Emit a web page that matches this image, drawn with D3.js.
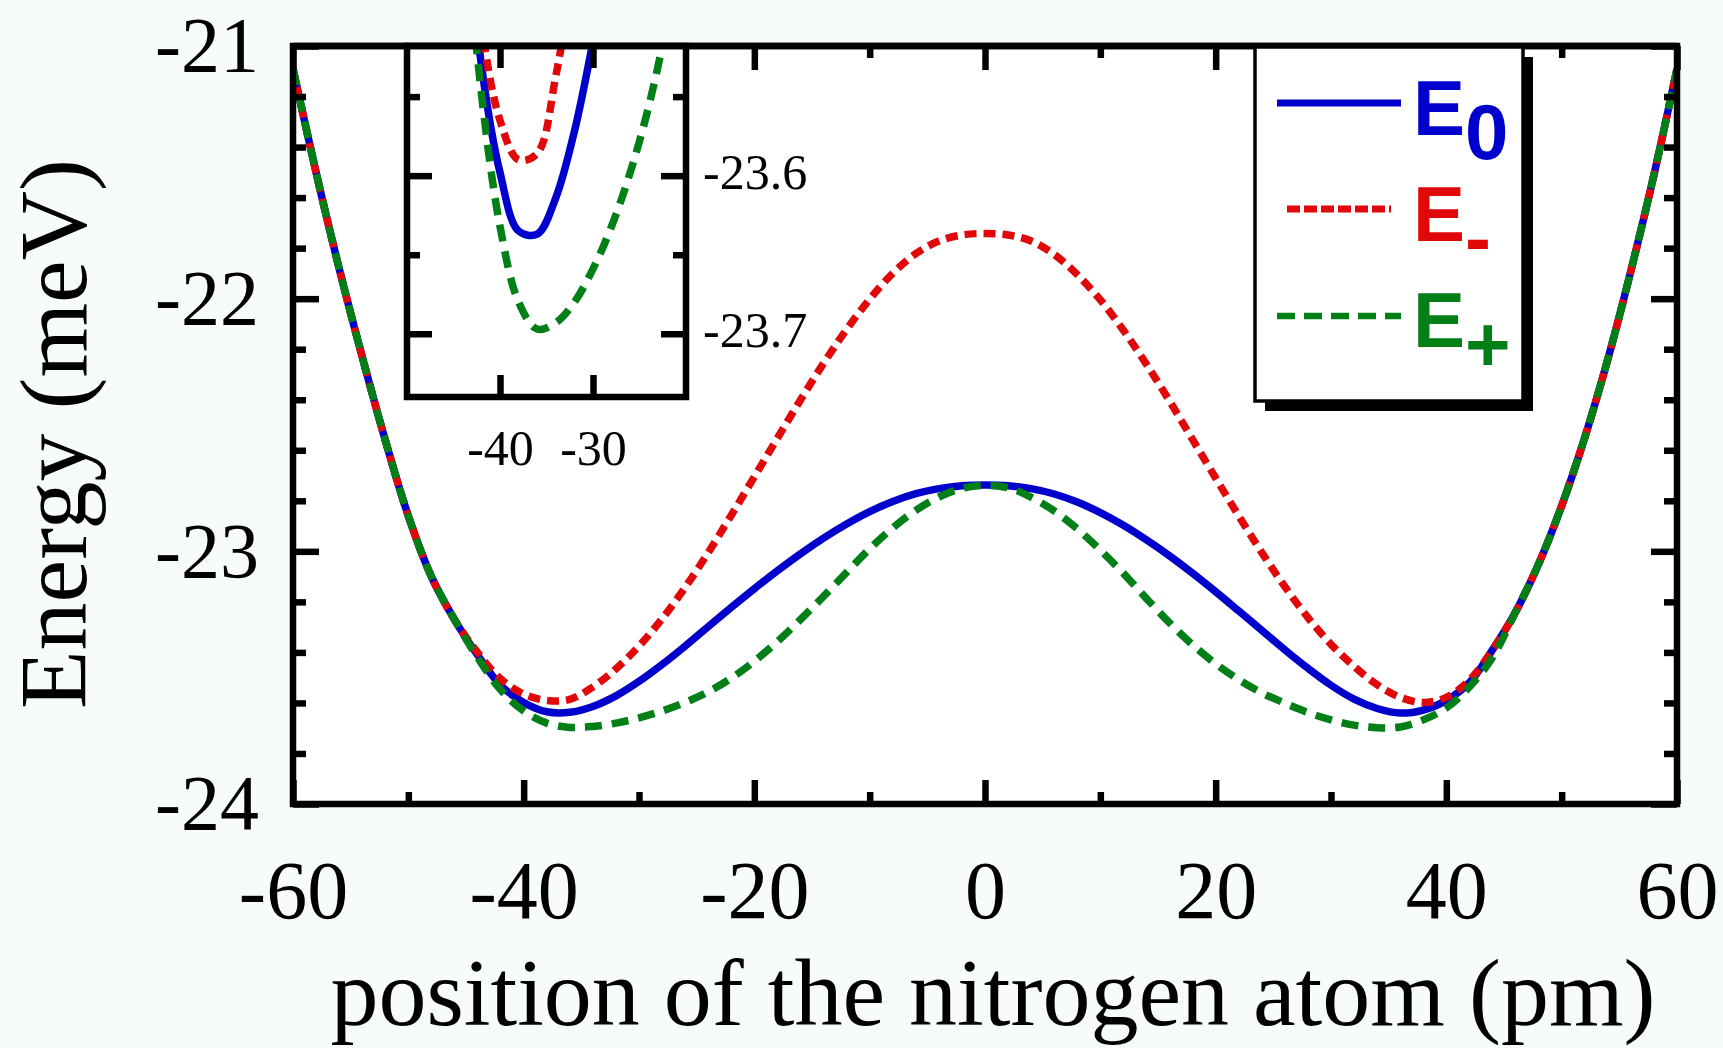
<!DOCTYPE html>
<html>
<head>
<meta charset="utf-8">
<script src="https://cdn.jsdelivr.net/npm/d3@7"></script>
<style>
    body { margin: 0; background: #f7fbfc; }
    svg { display: block; }
</style>
</head>
<body>
<svg id="chart" width="1723" height="1048"></svg>
<script>
// position of the nitrogen atom (pm)
var positions = [
    -60, -58, -56, -54, -52, -50, -48, -46, -44, -42, -40, -38, -36, -34, -32, -30,
    -28, -26, -24, -22, -20, -18, -16, -14, -12, -10, -8, -6, -4, -2, 0,
    2, 4, 6, 8, 10, 12, 14, 16, 18, 20, 22, 24, 26, 28, 30,
    32, 34, 36, 38, 40, 42, 44, 46, 48, 50, 52, 54, 56, 58, 60
];
// energies (meV)
var energyE0 = [
    -21.09, -21.50, -21.88, -22.23, -22.56, -22.86, -23.10, -23.27, -23.41, -23.53, -23.598, -23.635, -23.637, -23.614, -23.572, -23.515,
    -23.448, -23.375, -23.298, -23.222, -23.148, -23.077, -23.010, -22.948, -22.892, -22.843, -22.803, -22.772, -22.752, -22.740, -22.737,
    -22.740, -22.752, -22.773, -22.805, -22.847, -22.897, -22.955, -23.018, -23.087, -23.160, -23.236, -23.313, -23.390, -23.463, -23.530,
    -23.585, -23.622, -23.640, -23.628, -23.59, -23.52, -23.39, -23.24, -23.05, -22.82, -22.55, -22.24, -21.89, -21.51, -21.09
];
var energyMinus = [
    -21.09, -21.50, -21.88, -22.23, -22.56, -22.86, -23.10, -23.27, -23.40, -23.505, -23.565, -23.590, -23.586, -23.537, -23.465, -23.375,
    -23.267, -23.143, -23.005, -22.857, -22.705, -22.552, -22.401, -22.256, -22.122, -22.002, -21.900, -21.822, -21.772, -21.748, -21.742,
    -21.748, -21.772, -21.825, -21.905, -22.005, -22.125, -22.26, -22.405, -22.558, -22.71, -22.86, -23.005, -23.14, -23.262, -23.368,
    -23.455, -23.528, -23.578, -23.598, -23.578, -23.51, -23.39, -23.24, -23.05, -22.82, -22.55, -22.24, -21.89, -21.51, -21.09
];
var energyPlus = [
    -21.09, -21.50, -21.88, -22.23, -22.56, -22.86, -23.10, -23.27, -23.42, -23.548, -23.632, -23.680, -23.697, -23.693, -23.680, -23.659,
    -23.632, -23.598, -23.556, -23.502, -23.435, -23.357, -23.270, -23.178, -23.083, -22.990, -22.907, -22.838, -22.785, -22.751, -22.739,
    -22.748, -22.786, -22.840, -22.911, -22.995, -23.087, -23.187, -23.283, -23.370, -23.445, -23.508, -23.560, -23.601, -23.638, -23.667,
    -23.688, -23.698, -23.695, -23.667, -23.62, -23.537, -23.42, -23.24, -23.05, -22.82, -22.55, -22.24, -21.89, -21.51, -21.09
];

var xMajorTicks = [ -60, -40, -20, 0, 20, 40, 60 ];
var xMinorTicks = [ -50, -30, -10, 10, 30, 50 ];
var yMajorTicks = [ -21, -22, -23, -24 ];
var yMinorTicks = [ -21.2, -21.4, -21.6, -21.8, -22.2, -22.4, -22.6, -22.8, -23.2, -23.4, -23.6, -23.8 ];
var insetXTicks = [ -40, -30 ];
var insetYMajorTicks = [ -23.6, -23.7 ];
var insetYMinorTicks = [ -23.55, -23.65 ];

var seriesNames = [ 'E0', 'E-', 'E+' ];
var legendBase = [ 'E', 'E', 'E' ];
var legendSub = [ '0', '-', '+' ];

var svg = d3.select( '#chart' ),
    serif = '"Liberation Serif", "Times New Roman", Times, serif',
    sans = '"Liberation Sans", Arial, Helvetica, sans-serif',
    frameWidth = 6.5,
    plot = { left: 293, right: 1677, top: 46, bottom: 804 },
    inset = { left: 407, right: 686, top: 46, bottom: 397 },
    styles = [
        { color: '#0000cd', dash: null, legendDash: null },
        { color: '#e00808', dash: '12,7', legendDash: '13,4' },
        { color: '#037f17', dash: '17,10', legendDash: '18,9' }
    ],
    seriesValues = [ energyE0, energyMinus, energyPlus ];

var x = d3.scaleLinear().domain( [ -60, 60 ] ).range( [ plot.left, plot.right ] );
var y = d3.scaleLinear().domain( [ -24, -21 ] ).range( [ plot.bottom, plot.top ] );
var xi = d3.scaleLinear().domain( [ -50, -20 ] ).range( [ inset.left, inset.right ] );
var yi = d3.scaleLinear().domain( [ -23.74, -23.518 ] ).range( [ inset.bottom, inset.top ] );

var fmt = function ( d ) { return String( d ); };

var styleAxis = function ( g, fontSize ) {
    g.select( '.domain' ).remove();
    g.selectAll( '.tick line' )
        .attr( 'stroke', '#000' )
        .attr( 'stroke-width', frameWidth );
    g.selectAll( '.tick text' )
        .attr( 'fill', '#000' )
        .attr( 'font-family', serif )
        .attr( 'font-size', fontSize );
};

var drawBox = function ( box, scaleX, scaleY, clipId ) {
    svg.append( 'clipPath' )
        .attr( 'id', clipId )
        .append( 'rect' )
        .attr( 'x', box.left )
        .attr( 'y', box.top )
        .attr( 'width', box.right - box.left )
        .attr( 'height', box.bottom - box.top );
    svg.append( 'rect' )
        .attr( 'x', box.left )
        .attr( 'y', box.top )
        .attr( 'width', box.right - box.left )
        .attr( 'height', box.bottom - box.top )
        .attr( 'fill', '#fff' );

    var line = d3.line()
        .x( function ( d ) { return scaleX( d[ 0 ] ); } )
        .y( function ( d ) { return scaleY( d[ 1 ] ); } )
        .curve( d3.curveCatmullRom.alpha( 0.5 ) );

    var linesGrp = svg.append( 'g' ).attr( 'clip-path', 'url(#' + clipId + ')' );
    seriesValues.forEach( function ( vals, i ) {
        linesGrp.append( 'path' )
            .datum( positions.map( function ( p, j ) { return [ p, vals[ j ] ]; } ) )
            .attr( 'd', line )
            .attr( 'fill', 'none' )
            .attr( 'stroke', styles[ i ].color )
            .attr( 'stroke-width', 7.5 )
            .attr( 'stroke-dasharray', styles[ i ].dash )
            .attr( 'stroke-linejoin', 'round' );
    } );
};

// main plot
drawBox( plot, x, y, 'mainClip' );

svg.append( 'g' )
    .attr( 'transform', 'translate(0,' + plot.bottom + ')' )
    .call( d3.axisBottom( x ).tickValues( xMajorTicks ).tickSize( -24 ).tickPadding( 56 ).tickFormat( fmt ) )
    .call( styleAxis, 82 );
svg.append( 'g' )
    .attr( 'transform', 'translate(0,' + plot.bottom + ')' )
    .call( d3.axisBottom( x ).tickValues( xMinorTicks ).tickSize( -12 ).tickFormat( '' ) )
    .call( styleAxis, 82 );
svg.append( 'g' )
    .attr( 'transform', 'translate(0,' + plot.top + ')' )
    .call( d3.axisTop( x ).tickValues( xMajorTicks ).tickSize( -24 ).tickFormat( '' ) )
    .call( styleAxis, 82 );
svg.append( 'g' )
    .attr( 'transform', 'translate(0,' + plot.top + ')' )
    .call( d3.axisTop( x ).tickValues( xMinorTicks ).tickSize( -12 ).tickFormat( '' ) )
    .call( styleAxis, 82 );
svg.append( 'g' )
    .attr( 'transform', 'translate(' + plot.left + ',0)' )
    .call( d3.axisLeft( y ).tickValues( yMajorTicks ).tickSize( -26 ).tickPadding( 34 ).tickFormat( fmt ) )
    .call( styleAxis, 78 );
svg.append( 'g' )
    .attr( 'transform', 'translate(' + plot.left + ',0)' )
    .call( d3.axisLeft( y ).tickValues( yMinorTicks ).tickSize( -13 ).tickFormat( '' ) )
    .call( styleAxis, 78 );
svg.append( 'g' )
    .attr( 'transform', 'translate(' + plot.right + ',0)' )
    .call( d3.axisRight( y ).tickValues( yMajorTicks ).tickSize( -26 ).tickFormat( '' ) )
    .call( styleAxis, 78 );
svg.append( 'g' )
    .attr( 'transform', 'translate(' + plot.right + ',0)' )
    .call( d3.axisRight( y ).tickValues( yMinorTicks ).tickSize( -13 ).tickFormat( '' ) )
    .call( styleAxis, 78 );

svg.append( 'rect' )
    .attr( 'x', plot.left )
    .attr( 'y', plot.top )
    .attr( 'width', plot.right - plot.left )
    .attr( 'height', plot.bottom - plot.top )
    .attr( 'fill', 'none' )
    .attr( 'stroke', '#000' )
    .attr( 'stroke-width', frameWidth );

// inset
drawBox( inset, xi, yi, 'insetClip' );

svg.append( 'g' )
    .attr( 'transform', 'translate(0,' + inset.bottom + ')' )
    .call( d3.axisBottom( xi ).tickValues( insetXTicks ).tickSize( -22 ).tickPadding( 32 ).tickFormat( fmt ) )
    .call( styleAxis, 50 );
svg.append( 'g' )
    .attr( 'transform', 'translate(0,' + inset.top + ')' )
    .call( d3.axisTop( xi ).tickValues( insetXTicks ).tickSize( -22 ).tickFormat( '' ) )
    .call( styleAxis, 50 );
svg.append( 'g' )
    .attr( 'transform', 'translate(' + inset.left + ',0)' )
    .call( d3.axisLeft( yi ).tickValues( insetYMajorTicks ).tickSize( -25 ).tickFormat( '' ) )
    .call( styleAxis, 50 );
svg.append( 'g' )
    .attr( 'transform', 'translate(' + inset.left + ',0)' )
    .call( d3.axisLeft( yi ).tickValues( insetYMinorTicks ).tickSize( -13 ).tickFormat( '' ) )
    .call( styleAxis, 50 );
svg.append( 'g' )
    .attr( 'transform', 'translate(' + inset.right + ',0)' )
    .call( d3.axisRight( yi ).tickValues( insetYMajorTicks ).tickSize( -25 ).tickPadding( 17 ).tickFormat( fmt ) )
    .call( styleAxis, 50 )
    .selectAll( '.tick text' ).attr( 'dy', '0.25em' );
svg.append( 'g' )
    .attr( 'transform', 'translate(' + inset.right + ',0)' )
    .call( d3.axisRight( yi ).tickValues( insetYMinorTicks ).tickSize( -13 ).tickFormat( '' ) )
    .call( styleAxis, 50 );

svg.append( 'rect' )
    .attr( 'x', inset.left )
    .attr( 'y', inset.top )
    .attr( 'width', inset.right - inset.left )
    .attr( 'height', inset.bottom - inset.top )
    .attr( 'fill', 'none' )
    .attr( 'stroke', '#000' )
    .attr( 'stroke-width', frameWidth );

// top border of main frame drawn again over the inset
svg.append( 'line' )
    .attr( 'x1', plot.left )
    .attr( 'x2', plot.right )
    .attr( 'y1', plot.top )
    .attr( 'y2', plot.top )
    .attr( 'stroke', '#000' )
    .attr( 'stroke-width', frameWidth );

// legend
var legend = { left: 1255, top: 47, right: 1523, bottom: 401, shadow: 10 };
svg.append( 'rect' )
    .attr( 'x', legend.left + legend.shadow )
    .attr( 'y', legend.top + legend.shadow )
    .attr( 'width', legend.right - legend.left )
    .attr( 'height', legend.bottom - legend.top )
    .attr( 'fill', '#000' );
svg.append( 'rect' )
    .attr( 'x', legend.left )
    .attr( 'y', legend.top )
    .attr( 'width', legend.right - legend.left )
    .attr( 'height', legend.bottom - legend.top )
    .attr( 'fill', '#fff' )
    .attr( 'stroke', '#000' )
    .attr( 'stroke-width', 3.5 );

var legendRows = [
    { lineY: 103, x1: 1277, x2: 1401, textY: 135, width: 7 },
    { lineY: 209, x1: 1287, x2: 1391, textY: 241, width: 7 },
    { lineY: 316, x1: 1277, x2: 1401, textY: 347, width: 6.5 }
];
seriesNames.forEach( function ( name, i ) {
    var row = legendRows[ i ];
    svg.append( 'line' )
        .attr( 'x1', row.x1 )
        .attr( 'x2', row.x2 )
        .attr( 'y1', row.lineY )
        .attr( 'y2', row.lineY )
        .attr( 'stroke', styles[ i ].color )
        .attr( 'stroke-width', row.width )
        .attr( 'stroke-dasharray', styles[ i ].legendDash );
    var t = svg.append( 'text' )
        .attr( 'x', 1413 )
        .attr( 'y', row.textY )
        .attr( 'font-family', sans )
        .attr( 'font-weight', 'bold' )
        .attr( 'font-size', 78 )
        .attr( 'fill', styles[ i ].color );
    t.append( 'tspan' ).text( legendBase[ i ] );
    t.append( 'tspan' ).attr( 'dy', 24 ).text( legendSub[ i ] );
} );

// axis titles
svg.append( 'text' )
    .attr( 'x', 993 )
    .attr( 'y', 1025 )
    .attr( 'text-anchor', 'middle' )
    .attr( 'font-family', serif )
    .attr( 'font-size', 96 )
    .attr( 'fill', '#000' )
    .text( 'position of the nitrogen atom (pm)' );
svg.append( 'text' )
    .attr( 'transform', 'translate(86,434) rotate(-90)' )
    .attr( 'text-anchor', 'middle' )
    .attr( 'font-family', serif )
    .attr( 'font-size', 96 )
    .attr( 'fill', '#000' )
    .text( 'Energy (meV)' );
</script>
</body>
</html>
